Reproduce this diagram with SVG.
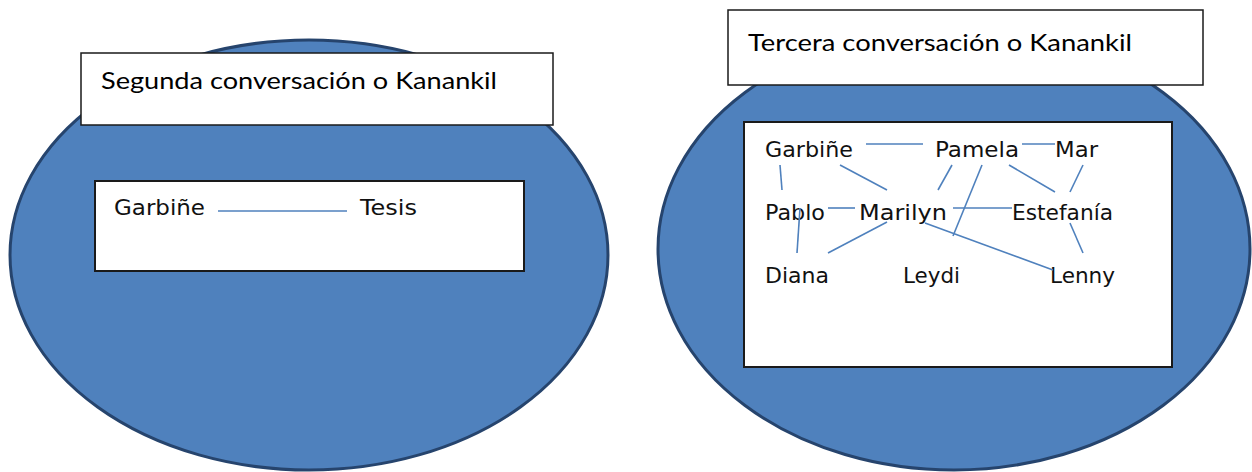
<svg xmlns="http://www.w3.org/2000/svg" width="1252" height="472" viewBox="0 0 1252 472">
  <style>
    .blob { fill: #4f81bd; stroke: #26446d; stroke-width: 3; }
    .title-box { fill: #ffffff; stroke: #1a1a1a; stroke-width: 1.5; }
    .inner-box { fill: #ffffff; stroke: #1a1a1a; stroke-width: 2; }
    .title { font-family: "Lato", "Liberation Sans", sans-serif; font-size: 23px; fill: #000000; }
    .name { font-family: "DejaVu Sans", "Liberation Sans", sans-serif; font-size: 21px; fill: #111111; }
    .link { stroke: #4f81bd; stroke-width: 1.6; fill: none; }
  </style>
  <rect width="1252" height="472" fill="#ffffff"/>

  <!-- Second conversation -->
  <g id="segunda">
    <ellipse class="blob" cx="309" cy="255" rx="299" ry="215"/>
    <rect class="title-box" x="81" y="53" width="472" height="72"/>
    <text class="title" x="101" y="89" textLength="396" lengthAdjust="spacingAndGlyphs">Segunda conversación o Kanankil</text>
    <rect class="inner-box" x="95" y="181" width="429" height="90"/>
  </g>
  <g id="s-garbine"><text class="name" x="114" y="215" textLength="91" lengthAdjust="spacingAndGlyphs">Garbiñe</text></g>
  <g id="s-tesis"><text class="name" x="360" y="215" textLength="57" lengthAdjust="spacingAndGlyphs">Tesis</text></g>

  <!-- Third conversation -->
  <g id="tercera">
    <ellipse class="blob" cx="954" cy="249" rx="296" ry="221"/>
    <rect class="title-box" x="728" y="10" width="475" height="75"/>
    <text class="title" x="748" y="51" textLength="384" lengthAdjust="spacingAndGlyphs">Tercera conversación o Kanankil</text>
    <rect class="inner-box" x="744" y="122" width="428" height="245"/>
  </g>
  <g id="t-garbine"><text class="name" x="765" y="157" textLength="88" lengthAdjust="spacingAndGlyphs">Garbiñe</text></g>
  <g id="t-pamela"><text class="name" x="935" y="157" textLength="84" lengthAdjust="spacingAndGlyphs">Pamela</text></g>
  <g id="t-mar"><text class="name" x="1055" y="157" textLength="43" lengthAdjust="spacingAndGlyphs">Mar</text></g>
  <g id="t-pablo"><text class="name" x="765" y="220" textLength="60" lengthAdjust="spacingAndGlyphs">Pablo</text></g>
  <g id="t-marilyn"><text class="name" x="859" y="220" textLength="88" lengthAdjust="spacingAndGlyphs">Marilyn</text></g>
  <g id="t-estefania"><text class="name" x="1012" y="220" textLength="101" lengthAdjust="spacingAndGlyphs">Estefanía</text></g>
  <g id="t-diana"><text class="name" x="765" y="283" textLength="64" lengthAdjust="spacingAndGlyphs">Diana</text></g>
  <g id="t-leydi"><text class="name" x="903" y="283" textLength="57" lengthAdjust="spacingAndGlyphs">Leydi</text></g>
  <g id="t-lenny"><text class="name" x="1050" y="283" textLength="65" lengthAdjust="spacingAndGlyphs">Lenny</text></g>

  <g id="connectors">
    <line class="link" x1="218" y1="211" x2="347" y2="211"/>

    <line class="link" x1="866" y1="144" x2="923" y2="144"/>
    <line class="link" x1="1022" y1="144" x2="1055" y2="144"/>
    <line class="link" x1="780" y1="165" x2="782" y2="190"/>
    <line class="link" x1="840" y1="165" x2="887" y2="190"/>
    <line class="link" x1="952" y1="165" x2="938" y2="190"/>
    <line class="link" x1="982" y1="165" x2="953" y2="236"/>
    <line class="link" x1="1009" y1="165" x2="1055" y2="192"/>
    <line class="link" x1="1083" y1="165" x2="1070" y2="192"/>
    <line class="link" x1="828" y1="208" x2="855" y2="208"/>
    <line class="link" x1="953" y1="208" x2="1012" y2="208"/>
    <line class="link" x1="800" y1="208" x2="797" y2="253"/>
    <line class="link" x1="887" y1="222" x2="828" y2="253"/>
    <line class="link" x1="925" y1="223" x2="1053" y2="270"/>
    <line class="link" x1="1070" y1="223" x2="1083" y2="253"/>
  </g>
</svg>
